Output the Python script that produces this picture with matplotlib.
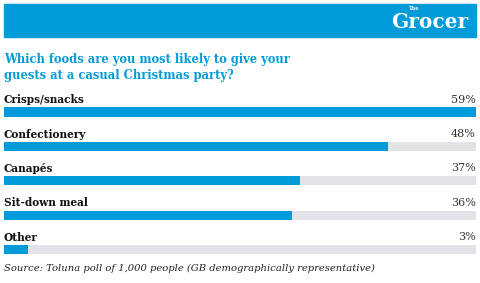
import numpy as np
import matplotlib.pyplot as plt
from matplotlib.patches import Rectangle

categories = ['Crisps/snacks', 'Confectionery', 'Canapés', 'Sit-down meal', 'Other']
values = [59, 48, 37, 36, 3]

blue = '#009bd8'
track = '#e1e3e7'
W, H = 480, 283

fig = plt.figure(figsize=(4.8, 2.83), dpi=100)
fig.patch.set_facecolor('white')

# header band
fig.patches.append(Rectangle((4 / W, 1 - 37 / H), 472 / W, 33 / H,
                             transform=fig.transFigure, color=blue, zorder=0))
fig.text(468 / W, 1 - 22 / H, 'Grocer', color='white', fontsize=14.5,
         fontweight='bold', family='DejaVu Serif', ha='right', va='center')
fig.text(414 / W, 1 - 8 / H, 'The', color='white', fontsize=3.5,
         fontweight='bold', family='DejaVu Serif', ha='center', va='center')

fig.text(4 / W, 1 - 67 / H, 'Which foods are you most likely to give your\nguests at a casual Christmas party?',
         color=blue, fontsize=8.3, fontweight='bold', family='DejaVu Serif',
         ha='left', va='center', linespacing=1.3)

# bars
y = np.arange(len(categories))
ax = fig.add_axes([4 / W, 1 - 266.8 / H, 472 / W, 180.6 / H])
ax.barh(y, [max(values)] * len(values), height=0.27, color=track, zorder=1)
ax.barh(y, values, height=0.27, color=blue, zorder=2)
ax.set_xlim(0, max(values))
ax.set_ylim(4.5, -0.75)
ax.axis('off')

for i, (c, v) in enumerate(zip(categories, values)):
    ax.text(0, i - 0.36, c, fontsize=7.6, fontweight='bold', family='DejaVu Serif',
            color='#111111', ha='left', va='center')
    ax.text(max(values), i - 0.36, f'{v}%', fontsize=8, family='DejaVu Serif',
            color='#333333', ha='right', va='center')

fig.text(4 / W, 1 - 268 / H, 'Source: Toluna poll of 1,000 people (GB demographically representative)',
         fontsize=7.2, style='italic', family='DejaVu Serif', color='#222222',
         ha='left', va='center')

fig.savefig('out.png', dpi=100)
